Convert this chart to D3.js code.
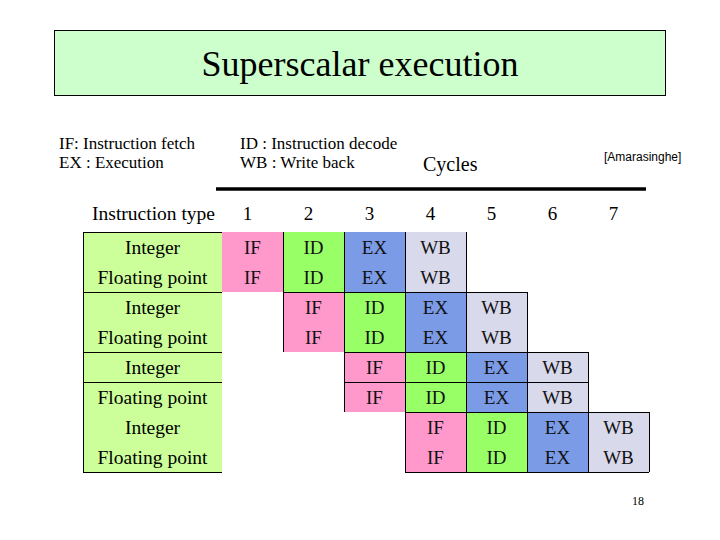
<!DOCTYPE html>
<meta charset="utf-8">
<head>
<style>
  body { margin:0; background:#fff; }
  svg { display:block; font-family:"Liberation Serif", "Times New Roman", serif; }
</style>
</head>
<body>
<svg id="chart" width="720" height="540"></svg>
<script src="https://cdn.jsdelivr.net/npm/d3@7"></script>
<script>

// the data
var cycles = [1, 2, 3, 4, 5, 6, 7]
var instrTypes = ["Integer", "Floating point", "Integer", "Floating point",
                  "Integer", "Floating point", "Integer", "Floating point"]
var stages = ["IF", "ID", "EX", "WB"]
// first cycle of each instruction (one per row)
var startCycle = [1, 1, 2, 2, 3, 3, 4, 4]
var legendLeft = ["IF: Instruction fetch", "EX : Execution"]
var legendRight = ["ID : Instruction decode", "WB : Write back"]

var stageColor = d3.scaleOrdinal()
    .domain(stages)
    .range(["#ff99cc", "#99ff66", "#7b9be6", "#d9d9ec"])

var svg = d3.select("#chart")

// scales
var x = d3.scaleBand().domain(cycles).range([222, 649])
var y = d3.scaleBand().domain(d3.range(instrTypes.length)).range([232, 472])
var labelX0 = 83, labelX1 = 222

// title box
svg.append("rect")
    .attr("x", 54.5).attr("y", 30.5)
    .attr("width", 611).attr("height", 65)
    .attr("fill", "#ccffcc")
    .attr("stroke", "#000").attr("stroke-width", 1)
svg.append("text")
    .attr("x", 360).attr("y", 76)
    .attr("text-anchor", "middle")
    .style("font-size", "36px")
    .text("Superscalar execution")

// legend
svg.selectAll(".legL")
    .data(legendLeft)
    .enter().append("text")
    .attr("x", 59)
    .attr("y", function(d, i){ return 149 + i * 19 })
    .style("font-size", "17px")
    .text(function(d){ return d })
svg.selectAll(".legR")
    .data(legendRight)
    .enter().append("text")
    .attr("x", 240)
    .attr("y", function(d, i){ return 149 + i * 19 })
    .style("font-size", "17px")
    .text(function(d){ return d })

svg.append("text")
    .attr("x", 423).attr("y", 171)
    .style("font-size", "20px")
    .text("Cycles")

svg.append("text")
    .attr("x", 604).attr("y", 161)
    .style("font-family", "'Liberation Sans', Arial, sans-serif")
    .style("font-size", "12px")
    .text("[Amarasinghe]")

svg.append("line")
    .attr("x1", 216).attr("x2", 646)
    .attr("y1", 189).attr("y2", 189)
    .attr("stroke", "#000").attr("stroke-width", 3.5)

// header row
svg.append("text")
    .attr("x", labelX1 - 7).attr("y", 220)
    .attr("text-anchor", "end")
    .style("font-size", "19.5px")
    .text("Instruction type")
svg.selectAll(".cyc")
    .data(cycles)
    .enter().append("text")
    .attr("x", function(d){ return x(d) + x.bandwidth() / 2 - 5 })
    .attr("y", 220)
    .attr("text-anchor", "middle")
    .style("font-size", "19px")
    .text(function(d){ return d })

// label column
svg.append("rect")
    .attr("x", labelX0).attr("y", y(0))
    .attr("width", labelX1 - labelX0).attr("height", y.range()[1] - y(0))
    .attr("fill", "#ccff99")
svg.selectAll(".lab")
    .data(instrTypes)
    .enter().append("text")
    .attr("x", (labelX0 + labelX1) / 2)
    .attr("y", function(d, i){ return y(i) + y.bandwidth() / 2 + 7 })
    .attr("text-anchor", "middle")
    .style("font-size", "19.5px")
    .text(function(d){ return d })

// pipeline cells
var cells = []
startCycle.forEach(function(s, row){
  stages.forEach(function(st, k){
    cells.push({ row: row, cycle: s + k, stage: st })
  })
})

svg.selectAll(".cell")
    .data(cells)
    .enter().append("rect")
    .attr("x", function(d){ return x(d.cycle) })
    .attr("y", function(d){ return y(d.row) })
    .attr("width", x.bandwidth())
    .attr("height", y.bandwidth())
    .attr("fill", function(d){ return stageColor(d.stage) })

svg.selectAll(".cellTxt")
    .data(cells)
    .enter().append("text")
    .attr("x", function(d){ return x(d.cycle) + x.bandwidth() / 2 })
    .attr("y", function(d){ return y(d.row) + y.bandwidth() / 2 + 7 })
    .attr("text-anchor", "middle")
    .style("font-size", "19px")
    .attr("fill", "#111")
    .text(function(d){ return d.stage })

// borders
var lines = svg.append("g")
    .attr("stroke", "#000").attr("stroke-width", 1)
    .attr("shape-rendering", "crispEdges")

function hline(x1, x2, yy){
  lines.append("line").attr("x1", x1).attr("x2", x2).attr("y1", yy).attr("y2", yy)
}
function vline(xx, y1, y2){
  lines.append("line").attr("x1", xx).attr("x2", xx).attr("y1", y1).attr("y2", y2)
}

// label column frame
var yTop = y(0), yBot = y.range()[1]
vline(labelX0, yTop, yBot)
hline(labelX0, labelX1, yTop)
hline(labelX0, labelX1, yBot)
hline(labelX0, labelX1, y(2))
hline(labelX0, labelX1, y(4))
hline(labelX0, labelX1, y(5))

// each pair of rows forms a group with the same start cycle
var dividedGroup = 2
d3.range(instrTypes.length / 2).forEach(function(g){
  var s = startCycle[g * 2]
  var gx0 = x(s), gx1 = x(s + stages.length - 1) + x.bandwidth()
  var gy0 = y(g * 2), gy1 = y(g * 2 + 1) + y.bandwidth()
  if (g > 0) hline(gx0, gx1, gy0)
  if (g > 0) vline(gx0, gy0, gy1)
  for (var k = 1; k < stages.length; k++) vline(x(s + k), gy0, gy1)
  vline(gx1, gy0, gy1)
  if (g === dividedGroup) hline(gx0, gx1, y(g * 2 + 1))
})
hline(x(startCycle[6]), x.range()[1], yBot)

// page number
svg.append("text")
    .attr("x", 632).attr("y", 505)
    .style("font-size", "12px")
    .text("18")

</script>
</body>
